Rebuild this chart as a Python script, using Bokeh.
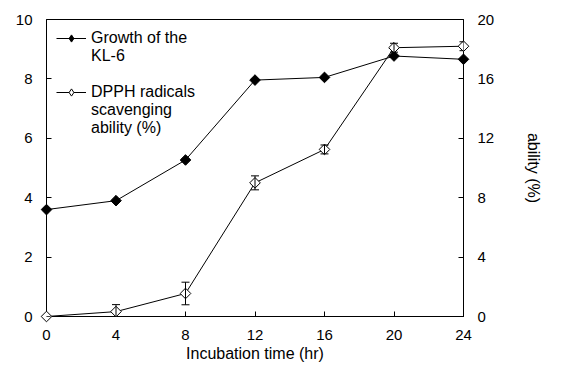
import math
from bokeh.plotting import figure
from bokeh.models import (Range1d, LinearAxis, FixedTicker, Whisker, TeeHead, ColumnDataSource,
                          Legend, LegendItem)
from bokeh.core.properties import value
from bokeh.embed import file_html
from bokeh.resources import INLINE

# ---- data ----
hours = [0, 4, 8, 12, 16, 20, 24]
growth = [3.6, 3.9, 5.27, 7.96, 8.05, 8.77, 8.66]
dpph = [0.0, 0.33, 1.55, 9.0, 11.25, 18.1, 18.2]
dpph_err = [0.0, 0.47, 0.76, 0.47, 0.3, 0.3, 0.3]

x_ticks = [0, 4, 8, 12, 16, 20, 24]
left_ticks = [0, 2, 4, 6, 8, 10]
right_ticks = [0, 4, 8, 12, 16, 20]

x_label = "Incubation time (hr)"
right_label = "ability (%)"
legend_growth = ["Growth of the", "KL-6"]
legend_dpph = ["DPPH radicals", "scavenging", "ability (%)"]

FONT = "Liberation Sans"

p = figure(width=546, height=365,
           x_range=Range1d(0, 24), y_range=Range1d(0, 10),
           output_backend="svg", toolbar_location=None,
           min_border_left=46, min_border_right=83, min_border_top=19, min_border_bottom=49)
p.extra_y_ranges = {"right": Range1d(0, 20)}
# range used only for the legend key glyphs (kept out of view)
p.extra_x_ranges = {"key": Range1d(1000, 1001)}
p.grid.visible = False
p.outline_line_color = "black"
p.outline_line_width = 1
p.background_fill_color = "white"
p.border_fill_color = "white"


def style_axis(ax, ticks, standoff, size="15px"):
    ax.ticker = FixedTicker(ticks=ticks)
    ax.major_tick_in = 5
    ax.major_tick_out = 0
    ax.minor_tick_line_color = None
    ax.axis_line_color = "black"
    ax.axis_line_width = 1
    ax.major_tick_line_color = "black"
    ax.major_label_text_font = FONT
    ax.major_label_text_font_size = size
    ax.major_label_text_color = "black"
    ax.major_label_standoff = standoff
    ax.axis_label_text_font = FONT
    ax.axis_label_text_font_size = "16px"
    ax.axis_label_text_font_style = "normal"
    ax.axis_label_text_color = "black"


xa = p.xaxis[0]
style_axis(xa, x_ticks, 13, "15px")
xa.axis_label = x_label
xa.axis_label_standoff = 2

style_axis(p.yaxis[0], left_ticks, 14)

ra = LinearAxis(y_range_name="right")
style_axis(ra, right_ticks, 14)
ra.axis_label = right_label
ra.axis_label_standoff = 28
p.add_layout(ra, "right")

# series
g_line = p.line(hours, growth, line_color="black", line_width=1, level="overlay")
g_pts = p.scatter(hours, growth, marker="square", size=7.5, angle=math.pi / 4,
                  fill_color="black", line_color="black", level="overlay")

d_line = p.line(hours, dpph, line_color="black", line_width=1, y_range_name="right",
                level="overlay")
d_pts = p.scatter(hours, dpph, marker="square", size=7.5, angle=math.pi / 4,
                  fill_color="white", line_color="black", y_range_name="right",
                  level="overlay")

err_src = ColumnDataSource(dict(
    base=hours,
    upper=[v + e for v, e in zip(dpph, dpph_err)],
    lower=[v - e for v, e in zip(dpph, dpph_err)],
))
wh = Whisker(source=err_src, base="base", upper="upper", lower="lower", dimension="height",
             y_range_name="right", line_color="black", line_width=1, level="overlay",
             upper_head=TeeHead(size=8, line_color="black", line_width=1),
             lower_head=TeeHead(size=8, line_color="black", line_width=1))
p.add_layout(wh)

# legend key glyphs: diamonds drawn through an out-of-view x range
g_key = p.scatter(hours, growth, marker="diamond", size=13, fill_color="black",
                  line_color="black", x_range_name="key")
d_key = p.scatter(hours, dpph, marker="diamond", size=13, fill_color="white",
                  line_color="black", x_range_name="key", y_range_name="right")
blank = p.line(hours, growth, line_alpha=0, x_range_name="key")

items = [LegendItem(label=value(legend_growth[0]), renderers=[g_line, g_key]),
         LegendItem(label=value(legend_growth[1]), renderers=[blank]),
         LegendItem(label=value(" "), renderers=[blank]),
         LegendItem(label=value(legend_dpph[0]), renderers=[d_line, d_key]),
         LegendItem(label=value(legend_dpph[1]), renderers=[blank]),
         LegendItem(label=value(legend_dpph[2]), renderers=[blank])]
legend = Legend(items=items, location="top_left", border_line_color=None,
                background_fill_alpha=0, margin=10, padding=8, spacing=0,
                glyph_width=30, glyph_height=18, label_height=18, label_standoff=5,
                label_text_font=FONT, label_text_font_size="16px", label_text_color="black")
p.add_layout(legend)

open("out.html", "w").write(file_html(p, INLINE))
